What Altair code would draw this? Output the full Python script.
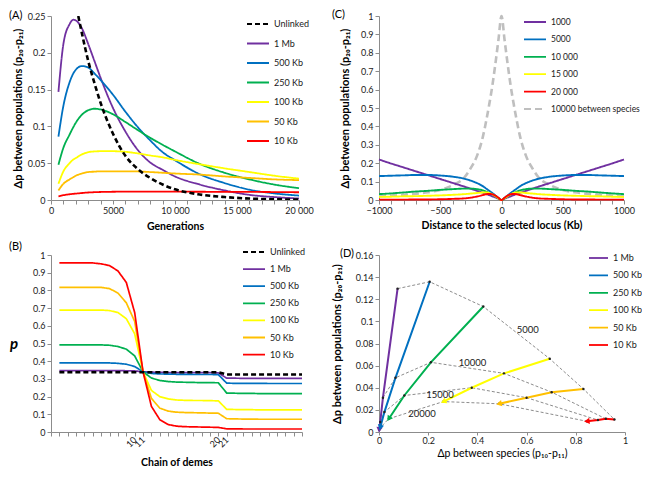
import altair as alt
import numpy as np
import pandas as pd

FONT = "Lato"
TXT = "#1a1a1a"
AX = "#8c8c8c"

SERIES = ["1 Mb", "500 Kb", "250 Kb", "100 Kb", "50 Kb", "10 Kb"]
COLORS = ["#7030A0", "#0070C0", "#00B050", "#FFFF00", "#FFC000", "#FF0000"]

# ---------------- Panel A : delta p between populations vs generations ----------------
gens_a = [600, 1000, 1500, 1800, 2000, 2500, 3000, 3500, 4000, 5000, 6000, 7000,
          8000, 9000, 10000, 12000, 14000, 16000, 18000, 20000]
a_1mb = [0.147, 0.212, 0.239, 0.245, 0.244, 0.233, 0.212, 0.189, 0.166, 0.125, 0.093,
         0.068, 0.051, 0.041, 0.032, 0.021, 0.013, 0.007, 0.004, 0.002]
a_500kb = [0.086, 0.128, 0.160, 0.172, 0.177, 0.182, 0.180, 0.172, 0.163, 0.143, 0.120,
           0.099, 0.081, 0.065, 0.054, 0.035, 0.023, 0.014, 0.009, 0.006]
a_250kb = [0.048, 0.071, 0.089, 0.099, 0.105, 0.116, 0.122, 0.124, 0.123, 0.1165, 0.106,
           0.095, 0.0845, 0.075, 0.066, 0.049, 0.037, 0.028, 0.021, 0.016]
a_100kb = [0.022, 0.039, 0.050, 0.055, 0.057, 0.062, 0.065, 0.066, 0.0663, 0.0663, 0.0655,
           0.0633, 0.0605, 0.058, 0.0545, 0.0485, 0.043, 0.038, 0.033, 0.029]
a_50kb = [0.013, 0.022, 0.028, 0.031, 0.033, 0.036, 0.038, 0.0385, 0.039, 0.039, 0.039,
          0.0388, 0.038, 0.037, 0.036, 0.0345, 0.032, 0.030, 0.028, 0.027]
a_10kb = [0.005, 0.0065, 0.0078, 0.0084, 0.0087, 0.0095, 0.0102, 0.0106, 0.0109, 0.0112,
          0.0113, 0.0113, 0.0113, 0.0113, 0.0113, 0.0112, 0.0111, 0.011, 0.0108, 0.0105]
gens_unlinked = [2200, 2500, 3000, 3500, 4000, 5000, 6000, 7000, 8000, 9000, 10000,
                 12000, 14000, 16000, 18000, 20000]
a_unlinked = [0.25, 0.226, 0.189, 0.159, 0.132, 0.09, 0.06, 0.042, 0.03, 0.021, 0.0145,
              0.0075, 0.004, 0.002, 0.001, 0.0005]

# ---------------- Panel B : allele frequency along the chain of demes ----------------
demes = list(range(1, 31))
b_unlinked = [0.338, 0.338, 0.338, 0.338, 0.338, 0.338, 0.338, 0.338, 0.338, 0.338,
              0.338, 0.338, 0.338, 0.338, 0.338, 0.338, 0.338, 0.338, 0.338, 0.338,
              0.325, 0.325, 0.325, 0.325, 0.325, 0.325, 0.325, 0.325, 0.325, 0.325]
b_1mb = [0.347, 0.347, 0.347, 0.347, 0.347, 0.347, 0.347, 0.347, 0.346, 0.345,
         0.340, 0.338, 0.337, 0.336, 0.336, 0.335, 0.335, 0.335, 0.335, 0.334,
         0.304, 0.304, 0.303, 0.303, 0.303, 0.303, 0.303, 0.303, 0.303, 0.303]
b_500kb = [0.390, 0.390, 0.390, 0.390, 0.390, 0.390, 0.390, 0.388, 0.383, 0.370,
           0.340, 0.331, 0.328, 0.327, 0.326, 0.326, 0.325, 0.325, 0.325, 0.324,
           0.276, 0.275, 0.275, 0.275, 0.275, 0.274, 0.274, 0.274, 0.274, 0.274]
b_250kb = [0.492, 0.492, 0.492, 0.492, 0.492, 0.492, 0.490, 0.483, 0.468, 0.430,
           0.340, 0.305, 0.291, 0.285, 0.282, 0.281, 0.280, 0.279, 0.279, 0.278,
           0.220, 0.219, 0.218, 0.218, 0.217, 0.217, 0.217, 0.217, 0.217, 0.217]
b_100kb = [0.689, 0.689, 0.689, 0.689, 0.689, 0.689, 0.686, 0.675, 0.640, 0.555,
           0.340, 0.235, 0.200, 0.187, 0.181, 0.179, 0.178, 0.178, 0.177, 0.176,
           0.128, 0.127, 0.126, 0.126, 0.125, 0.125, 0.125, 0.125, 0.125, 0.125]
b_50kb = [0.817, 0.817, 0.817, 0.817, 0.817, 0.817, 0.810, 0.785, 0.730, 0.625,
          0.340, 0.190, 0.135, 0.118, 0.112, 0.110, 0.109, 0.108, 0.107, 0.106,
          0.075, 0.074, 0.073, 0.073, 0.072, 0.072, 0.072, 0.072, 0.072, 0.072]
b_10kb = [0.955, 0.955, 0.955, 0.955, 0.955, 0.950, 0.940, 0.910, 0.845, 0.675,
          0.340, 0.145, 0.070, 0.042, 0.033, 0.030, 0.029, 0.028, 0.027, 0.026,
          0.018, 0.018, 0.017, 0.017, 0.017, 0.017, 0.017, 0.017, 0.017, 0.017]

# ---------------- Panel C : profile around the selected locus (one side, mirrored) ----------------
dist_c = [0, 25, 50, 75, 100, 125, 150, 200, 250, 300, 400, 500, 600, 700, 800, 900, 1000]
c_names = ["1000", "5000", "10 000", "15 000", "20 000", "10000 between species"]
c_1000 = [0, 0.007, 0.014, 0.020, 0.027, 0.033, 0.039, 0.050, 0.061, 0.072, 0.093, 0.114,
          0.135, 0.156, 0.177, 0.198, 0.220]
c_5000 = [0, 0.012, 0.025, 0.038, 0.050, 0.062, 0.074, 0.092, 0.105, 0.115, 0.127, 0.133,
          0.136, 0.136, 0.134, 0.132, 0.130]
c_10000 = [0, 0.009, 0.020, 0.030, 0.038, 0.046, 0.052, 0.059, 0.062, 0.062, 0.059, 0.055,
           0.050, 0.046, 0.041, 0.036, 0.032]
c_15000 = [0, 0.010, 0.021, 0.031, 0.038, 0.041, 0.041, 0.038, 0.035, 0.032, 0.028, 0.025,
           0.023, 0.021, 0.020, 0.018, 0.017]
c_20000 = [0, 0.012, 0.024, 0.031, 0.033, 0.031, 0.027, 0.019, 0.013, 0.009, 0.006, 0.004,
           0.003, 0.003, 0.002, 0.002, 0.002]
c_species = [1.0, 0.87, 0.74, 0.62, 0.52, 0.43, 0.35, 0.24, 0.175, 0.125, 0.08, 0.055,
             0.042, 0.034, 0.028, 0.024, 0.021]

# ---------------- Panel D : between populations vs between species ----------------
d_gens = [5000, 10000, 15000, 20000]
d_x_1mb = [0.0755, 0.016, 0.005, 0.001]
d_x_500kb = [0.206, 0.067, 0.022, 0.005]
d_x_250kb = [0.424, 0.211, 0.103, 0.040]
d_x_100kb = [0.694, 0.508, 0.377, 0.262]
d_x_50kb = [0.831, 0.702, 0.600, 0.488]
d_x_10kb = [0.957, 0.922, 0.890, 0.845]
d_y_1mb = [0.1296, 0.031, 0.009, 0.002]
d_y_500kb = [0.1358, 0.049, 0.018, 0.004]
d_y_250kb = [0.1134, 0.063, 0.033, 0.012]
d_y_100kb = [0.0662, 0.053, 0.040, 0.0275]
d_y_50kb = [0.0389, 0.036, 0.031, 0.0255]
d_y_10kb = [0.0113, 0.0119, 0.0108, 0.0097]
d_label_text = ["5000", "10000", "15000", "20000"]
d_label_x = [0.605, 0.38, 0.248, 0.175]
d_label_y = [0.0918, 0.0622, 0.0335, 0.0165]

# ---------------- layout sizes ----------------
WA, HA = 248, 184
WC, HC = 245, 184
WB, HB = 251, 177
WD, HD = 246, 177


def legend(x, y, rowpad, symlen, fs=9):
    return alt.Legend(title=None, orient="none", legendX=x, legendY=y,
                      symbolType="stroke", symbolSize=symlen * symlen,
                      symbolStrokeWidth=1.8, clipHeight=10, rowPadding=rowpad,
                      labelFont=FONT, labelFontSize=fs, labelColor=TXT,
                      labelFontWeight="normal", padding=0, labelOffset=4)


def yaxis(values, title, tx, h, **kw):
    return alt.Axis(values=values, title=title, format="~g", labelFlush=False,
                    labelOverlap=False, titleX=tx, titleY=h / 2, titleAngle=270,
                    titleBaseline="middle", titleAlign="center", titleFontSize=11, **kw)


def panel_label(txt, x, y):
    return alt.Chart(pd.DataFrame({"t": [txt]})).mark_text(
        align="left", baseline="middle", font=FONT, fontSize=11, color="#000"
    ).encode(text="t:N", x=alt.value(x), y=alt.value(y))


dom_ab = ["Unlinked"] + SERIES
col_ab = ["#000000"] + COLORS
dash_ab = [[5, 3]] + [[1, 0]] * 6

# ---------- Panel A ----------
rows = []
for name, vals in zip(SERIES, [a_1mb, a_500kb, a_250kb, a_100kb, a_50kb, a_10kb]):
    for g, v in zip(gens_a, vals):
        rows.append({"series": name, "gen": g, "val": v})
df_a = pd.DataFrame(rows)
df_a_unl = pd.DataFrame({"series": "Unlinked", "gen": gens_unlinked, "val": a_unlinked})

leg_a = legend(195, 3, 9.5, 22)
xa = alt.Axis(values=list(range(0, 20001, 1000)), title="Generations",
              labelFlush=False, labelOverlap=False, titleY=26, titleBaseline="middle",
              labelExpr="datum.value % 5000 == 0 ? (datum.value >= 10000 ? "
                        "replace(format(datum.value, ','), ',', ' ') : format(datum.value, 'd')) : ''")
ya = yaxis([0, 0.05, 0.1, 0.15, 0.2, 0.25], "Δp between populations (p₂₀-p₂₁)", -32.7, HA)
X_A = alt.X("gen:Q", scale=alt.Scale(domain=[0, 20000], nice=False), axis=xa)
Y_A = alt.Y("val:Q", scale=alt.Scale(domain=[0, 0.25], nice=False), axis=ya)
enc_a = dict(
    x=X_A, y=Y_A,
    color=alt.Color("series:N", scale=alt.Scale(domain=dom_ab, range=col_ab), legend=leg_a),
    strokeDash=alt.StrokeDash("series:N", scale=alt.Scale(domain=dom_ab, range=dash_ab), legend=leg_a),
)
lines_a = alt.Chart(df_a).mark_line(interpolate="monotone", strokeWidth=1.8).encode(**enc_a)
unl_a = alt.Chart(df_a_unl).mark_line(interpolate="monotone", strokeWidth=2.6, clip=True).encode(**enc_a)
chart_a = alt.layer(lines_a, unl_a, panel_label("(A)", -42, 0)).properties(width=WA, height=HA)

# ---------- Panel B ----------
rows = []
for name, vals in zip(SERIES, [b_1mb, b_500kb, b_250kb, b_100kb, b_50kb, b_10kb]):
    for d, v in zip(demes, vals):
        rows.append({"series": name, "deme": d, "val": v})
df_b = pd.DataFrame(rows)
df_b_unl = pd.DataFrame({"series": "Unlinked", "deme": demes, "val": b_unlinked})

leg_b = legend(191, -8, 7.1, 22)
xb = alt.Axis(values=list(range(0, 31)), title="Chain of demes", labelFlush=False,
              labelOverlap=False, labelAngle=315, labelAlign="right", labelBaseline="middle",
              titleY=30, titleBaseline="middle",
              labelExpr="indexof([10, 11, 20, 21], datum.value) >= 0 ? datum.label : ''")
yb = alt.Axis(values=[0, 0.1, 0.2, 0.3, 0.4, 0.5, 0.6, 0.7, 0.8, 0.9, 1], title="p",
              format="~g", labelFlush=False, labelOverlap=False, titleX=-37.5, titleY=HB / 2,
              titleAngle=0, titleAlign="center", titleBaseline="middle",
              titleFontSize=15, titleFontStyle="italic")
enc_b = dict(
    x=alt.X("deme:Q", scale=alt.Scale(domain=[0, 30], nice=False), axis=xb),
    y=alt.Y("val:Q", scale=alt.Scale(domain=[0, 1], nice=False), axis=yb),
    color=alt.Color("series:N", scale=alt.Scale(domain=dom_ab, range=col_ab), legend=leg_b),
    strokeDash=alt.StrokeDash("series:N", scale=alt.Scale(domain=dom_ab, range=dash_ab), legend=leg_b),
)
lines_b = alt.Chart(df_b).mark_line(strokeWidth=1.7).encode(**enc_b)
unl_b = alt.Chart(df_b_unl).mark_line(strokeWidth=2.5).encode(**enc_b)
chart_b = alt.layer(lines_b, unl_b, panel_label("(B)", -42, -7.7)).properties(width=WB, height=HB)

# ---------- Panel C ----------
rows = []
for name, vals in zip(c_names, [c_1000, c_5000, c_10000, c_15000, c_20000, c_species]):
    for d, v in zip(dist_c[::-1], vals[::-1]):
        if d > 0:
            rows.append({"series": name, "dist": -d, "val": v})
    for d, v in zip(dist_c, vals):
        rows.append({"series": name, "dist": d, "val": v})
df_c_all = pd.DataFrame(rows)
df_c_sp = df_c_all[df_c_all["series"] == c_names[-1]]
df_c = df_c_all[df_c_all["series"] != c_names[-1]]
col_c = ["#7030A0", "#0070C0", "#00B050", "#FFFF00", "#FF0000", "#BFBFBF"]
dash_c = [[1, 0]] * 5 + [[7, 4]]
leg_c = legend(144, 1, 7.4, 22, fs=8.5)
xc = alt.Axis(values=list(range(-1000, 1001, 100)), title="Distance to the selected locus (Kb)",
              labelFlush=False, labelOverlap=False, titleY=25, titleBaseline="middle",
              labelExpr="datum.value % 500 == 0 ? format(datum.value, 'd') : ''")
yc = yaxis([0, 0.1, 0.2, 0.3, 0.4, 0.5, 0.6, 0.7, 0.8, 0.9, 1],
           "Δp between populations (p₂₀-p₂₁)", -34, HC)
enc_c = dict(
    x=alt.X("dist:Q", scale=alt.Scale(domain=[-1000, 1000], nice=False), axis=xc),
    y=alt.Y("val:Q", scale=alt.Scale(domain=[0, 1], nice=False), axis=yc),
    color=alt.Color("series:N", scale=alt.Scale(domain=c_names, range=col_c), legend=leg_c),
    strokeDash=alt.StrokeDash("series:N", scale=alt.Scale(domain=c_names, range=dash_c), legend=leg_c),
)
sp_c = alt.Chart(df_c_sp).mark_line(interpolate="monotone", strokeWidth=2.6).encode(**enc_c)
lines_c = alt.Chart(df_c).mark_line(interpolate="monotone", strokeWidth=1.9).encode(**enc_c)
chart_c = alt.layer(sp_c, lines_c, panel_label("(C)", -47, -1)).properties(width=WC, height=HC)

# ---------- Panel D ----------
xs_all = [d_x_1mb, d_x_500kb, d_x_250kb, d_x_100kb, d_x_50kb, d_x_10kb]
ys_all = [d_y_1mb, d_y_500kb, d_y_250kb, d_y_100kb, d_y_50kb, d_y_10kb]
rows, tips = [], []
for si, (name, xs, ys) in enumerate(zip(SERIES, xs_all, ys_all)):
    for g, xv, yv in zip(d_gens, xs, ys):
        rows.append({"series": name, "sidx": si, "gen": g, "x": xv, "y": yv})
    dx = (xs[-1] - xs[-2]) * WD
    dy = -(ys[-1] - ys[-2]) / 0.16 * HD
    ang = (np.degrees(np.arctan2(dx, -dy)) + 360.0) % 360.0
    tips.append({"series": name, "x": xs[-1], "y": ys[-1], "ang": float(ang)})
df_d = pd.DataFrame(rows)
df_tip = pd.DataFrame(tips)
df_lab = pd.DataFrame({"t": d_label_text, "x": d_label_x, "y": d_label_y})

xd = alt.Axis(values=[0, 0.2, 0.4, 0.6, 0.8, 1], format="~g",
              title="Δp between species (p₁₀-p₁₁)", labelFlush=False, labelOverlap=False,
              tickSize=3, labelPadding=1,
              titleY=21, titleBaseline="middle", titleFontWeight="normal")
yd = yaxis([0, 0.02, 0.04, 0.06, 0.08, 0.1, 0.12, 0.14, 0.16],
           "Δp between populations (p₂₀-p₂₁)", -42, HD)
X_D = alt.X("x:Q", scale=alt.Scale(domain=[0, 1], nice=False), axis=xd)
Y_D = alt.Y("y:Q", scale=alt.Scale(domain=[0, 0.16], nice=False), axis=yd)
sc_d = alt.Scale(domain=SERIES, range=COLORS)
leg_d = legend(209, -2, 7.4, 19)

base_d = alt.Chart(df_d)
dashed_d = base_d.mark_line(color="#7f7f7f", strokeDash=[3, 2], strokeWidth=0.9).encode(
    x=X_D, y=Y_D, detail="gen:N", order="sidx:Q")
lines_d = base_d.mark_line(strokeWidth=2).encode(
    x=X_D, y=Y_D, color=alt.Color("series:N", scale=sc_d, legend=leg_d), order="gen:Q")
dots_d = base_d.mark_point(filled=True, size=6, color="#222", opacity=1).encode(x=X_D, y=Y_D)
tips_d = alt.Chart(df_tip).mark_point(shape="triangle-up", filled=True, size=40, opacity=1).encode(
    x=X_D, y=Y_D,
    color=alt.Color("series:N", scale=sc_d, legend=None),
    angle=alt.Angle("ang:Q", scale=None))
labs_d = alt.Chart(df_lab).mark_text(font=FONT, fontSize=9.5, color="#1a1a1a").encode(
    x=X_D, y=Y_D, text="t:N")
chart_d = alt.layer(dashed_d, lines_d, dots_d, tips_d, labs_d,
                    panel_label("(D)", -39, -1)).properties(width=WD, height=HD)

# ---------- assemble ----------
chart = alt.concat(
    chart_a, chart_c, chart_b, chart_d, columns=2,
    spacing=alt.RowColnumber(row=55, column=77), bounds="flush"
).resolve_scale(
    color="independent", strokeDash="independent"
).resolve_legend(
    color="independent", strokeDash="independent"
).properties(
    padding={"left": 1, "top": 1, "right": 0, "bottom": 0}
).configure_view(stroke=None).configure_axis(
    domainColor=AX, tickColor=AX, tickSize=4, grid=False,
    labelFont=FONT, labelFontSize=9, labelColor=TXT, labelPadding=2,
    titleFont=FONT, titleFontSize=10.5, titleFontWeight="bold", titleColor="#000"
)

chart.save("out.html", embed_options={"renderer": "svg", "actions": False})
